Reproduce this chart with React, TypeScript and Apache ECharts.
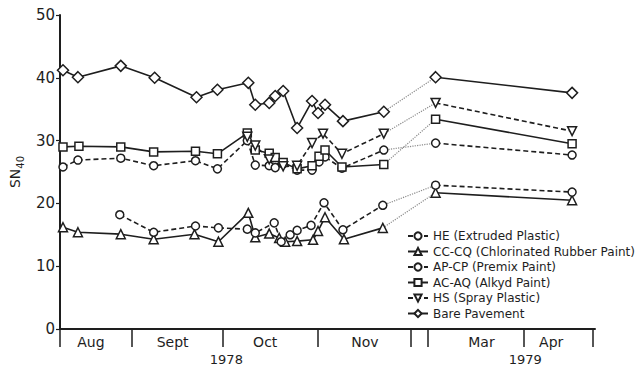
import React, { useEffect, useRef } from "react";
import * as echarts from "echarts";

// x positions are in timeline units along the (non-uniform) month axis
const monthTicks = [0, 72, 163, 259, 352, 369, 465, 535];
const monthLabels = ["Aug", "Sept", "Oct", "Nov", "Mar", "Apr"];
const monthLabelPos = [31, 113, 206, 306, 423, 493];
const yearLabels = ["1978", "1979"];
const yearLabelPos = [167, 467];

const legendNames = [
  "HE (Extruded Plastic)",
  "CC-CQ (Chlorinated Rubber Paint)",
  "AP-CP (Premix Paint)",
  "AC-AQ (Alkyd Paint)",
  "HS (Spray Plastic)",
  "Bare Pavement",
];

const he1978 = [[3, 25.8], [18, 26.9], [61, 27.2], [94, 26.0], [136, 26.8], [158, 25.5], [188, 30.0], [196, 26.1], [210, 26.0], [216, 25.7], [224, 26.3], [238, 25.3], [253, 25.3], [260, 26.6], [266, 27.4], [283, 25.6], [325, 28.5]];
const he1979 = [[377, 29.6], [514, 27.7]];

const cc1978 = [[3, 16.2], [18, 15.4], [61, 15.1], [94, 14.3], [135, 15.1], [159, 13.9], [189, 18.5], [196, 14.6], [210, 15.2], [220, 14.5], [226, 13.9], [238, 14.0], [254, 14.2], [259, 15.6], [266, 17.8], [285, 14.3], [324, 16.1]];
const cc1979 = [[377, 21.7], [514, 20.5]];

const ap1978 = [[60, 18.2], [94, 15.4], [136, 16.4], [159, 16.1], [188, 15.9], [196, 15.3], [215, 16.9], [222, 13.9], [231, 15.0], [238, 15.7], [252, 16.5], [265, 20.1], [284, 15.8], [324, 19.7]];
const ap1979 = [[377, 22.9], [514, 21.8]];

const ac1978 = [[3, 29.0], [19, 29.1], [61, 29.0], [94, 28.2], [136, 28.3], [158, 27.9], [188, 31.2], [196, 28.5], [210, 28.0], [216, 27.3], [224, 26.5], [238, 25.5], [253, 26.0], [260, 27.5], [266, 28.5], [283, 25.8], [325, 26.2]];
const ac1979 = [[377, 33.4], [514, 29.5]];

const hs1978 = [[188, 30.6], [196, 29.2], [210, 27.0], [224, 25.9], [238, 26.0], [253, 29.6], [264, 31.1], [283, 27.9], [325, 31.1]];
const hs1979 = [[377, 36.0], [514, 31.5]];

const bare1978 = [[3, 41.2], [18, 40.1], [61, 41.9], [95, 40.0], [137, 36.9], [158, 38.1], [189, 39.2], [196, 35.7], [210, 36.0], [216, 37.1], [224, 37.9], [238, 32.0], [253, 36.3], [259, 34.4], [266, 35.7], [284, 33.1], [325, 34.6]];
const bare1979 = [[377, 40.1], [514, 37.6]];

const INK = "#1e1e1e";
const FONT = "DejaVu Sans";

type Def = {
  name: string;
  a: number[][];
  b: number[][];
  symbol: string;
  size: number;
  dashed: boolean;
};

const defs: Def[] = [
  { name: legendNames[0], a: he1978, b: he1979, symbol: "circle", size: 8, dashed: true },
  { name: legendNames[1], a: cc1978, b: cc1979, symbol: "triangle", size: 9, dashed: false },
  { name: legendNames[2], a: ap1978, b: ap1979, symbol: "circle", size: 8, dashed: true },
  { name: legendNames[3], a: ac1978, b: ac1979, symbol: "rect", size: 8, dashed: false },
  { name: legendNames[4], a: hs1978, b: hs1979, symbol: "path://M0,0L10,0L5,9Z", size: 9, dashed: true },
  { name: legendNames[5], a: bare1978, b: bare1979, symbol: "diamond", size: 11, dashed: false },
];

export default function App() {
  const ref = useRef<HTMLDivElement>(null);
  useEffect(() => {
    if (!ref.current) return;
    const chart = echarts.init(ref.current, undefined, { renderer: "svg" });
    const series: any[] = [];
    defs.forEach((d) => {
      // dotted winter connector
      series.push({
        type: "line",
        name: d.name + " gap",
        data: [d.a[d.a.length - 1], d.b[0]],
        symbol: "none",
        lineStyle: { color: "#8a8a8a", width: 1.2, type: "dotted" },
        silent: true,
        z: 1,
      });
      [d.a, d.b].forEach((part) => {
        series.push({
          type: "line",
          name: d.name,
          data: part,
          symbol: d.symbol,
          symbolSize: d.size,
          showAllSymbol: true,
          lineStyle: { color: INK, width: 1.6, type: d.dashed ? [5, 3] : "solid" },
          itemStyle: { color: "#fff", borderColor: INK, borderWidth: 1.5 },
          silent: true,
          z: 2,
        });
      });
    });

    chart.setOption({
      animation: false,
      backgroundColor: "#fff",
      textStyle: { fontFamily: FONT, color: INK },
      grid: { left: 58, top: 15, width: 537, height: 314, containLabel: false },
      legend: {
        data: legendNames,
        orient: "vertical",
        left: 402,
        top: 225,
        itemWidth: 20,
        itemHeight: 9,
        itemGap: 3.5,
        textStyle: { fontFamily: FONT, fontSize: 12, color: INK },
        selectedMode: false,
      },
      xAxis: [
        {
          type: "value",
          min: 0,
          max: 537,
          axisLine: { lineStyle: { color: INK, width: 2 } },
          axisTick: { show: true, customValues: monthTicks, length: 18, inside: false, lineStyle: { color: INK, width: 1.5 } },
          axisLabel: {
            customValues: monthLabelPos,
            formatter: (v: number) => monthLabels[monthLabelPos.indexOf(v)] ?? "",
            margin: 6,
            fontSize: 14,
            color: INK,
            fontFamily: FONT,
          },
          splitLine: { show: false },
        },
        {
          type: "value",
          position: "bottom",
          min: 0,
          max: 537,
          axisLine: { show: false },
          axisTick: { show: false },
          axisLabel: {
            customValues: yearLabelPos,
            formatter: (v: number) => yearLabels[yearLabelPos.indexOf(v)] ?? "",
            margin: 24,
            fontSize: 13,
            color: INK,
            fontFamily: FONT,
          },
          splitLine: { show: false },
        },
      ],
      yAxis: {
        type: "value",
        min: 0,
        max: 50,
        interval: 10,
        name: "{a|SN}{b|40}",
        nameLocation: "middle",
        nameGap: 38,
        nameTextStyle: {
          rich: {
            a: { fontSize: 14, fontFamily: FONT, color: INK, lineHeight: 18, verticalAlign: "bottom" },
            b: { fontSize: 10, fontFamily: FONT, color: INK, lineHeight: 18, verticalAlign: "bottom", padding: [0, 0, -3, 0] },
          },
        },
        axisLine: { show: true, lineStyle: { color: INK, width: 2 } },
        axisTick: { show: true, length: 4, lineStyle: { color: INK, width: 1.2 } },
        axisLabel: { fontSize: 15, margin: 5, color: INK, fontFamily: FONT },
        splitLine: { show: false },
      },
      series,
    });
    return () => chart.dispose();
  }, []);
  return (
    <div
      ref={ref}
      style={{ position: "fixed", left: 0, top: 0, width: 635, height: 368, background: "#fff" }}
    />
  );
}
